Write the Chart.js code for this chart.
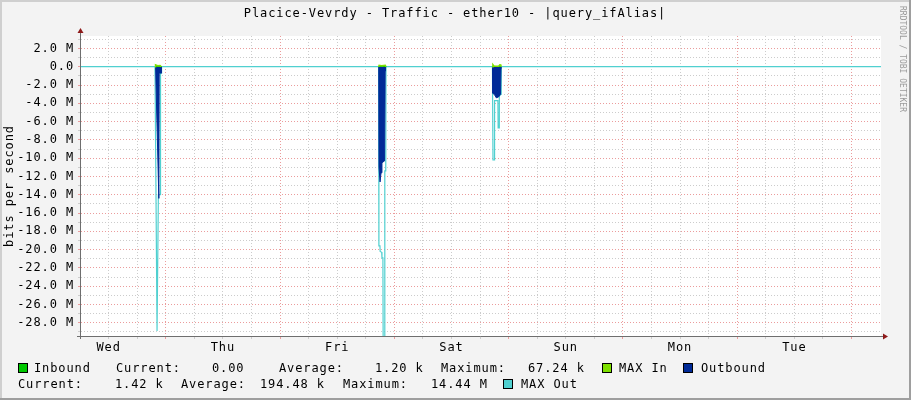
<!DOCTYPE html>
<html>
<head>
<meta charset="utf-8">
<title>Placice-Vevrdy - Traffic - ether10</title>
<script src="https://cdn.jsdelivr.net/npm/chart.js@4.4.1/dist/chart.umd.min.js"></script>
<style>
  html, body { margin: 0; padding: 0; background: #f3f3f3; }
  #wrap { position: relative; width: 911px; height: 400px; }
</style>
</head>
<body>
<div id="wrap"><canvas id="trafficChart" width="911" height="400"></canvas></div>
<script>
// x values are hours since Wednesday 00:00, y values are in Mbit/s (outbound drawn negative)
// null breaks the line between the bursts of traffic
const xMin = 6.2;
const xMax = 174.2;
const dayNames = ['Wed', 'Thu', 'Fri', 'Sat', 'Sun', 'Mon', 'Tue'];
const yMin = -29.45;
const yMax = 3.36;
const yLabelTicks = [2, 0, -2, -4, -6, -8, -10, -12, -14, -16, -18, -20, -22, -24, -26, -28];

const inHours  = [21.8, 21.9, 22.6, 23.0, 23.1, 40, 68.7, 68.8, 69.5, 70.1, 70.2, 80, 92.6, 92.7, 93.0, 93.9, 94.2, 94.4];
const inValues = [0, 0.05, 0.03, 0.067, 0, null, 0, 0.06, 0.04, 0.067, 0, null, 0, 0.067, 0.03, 0.02, 0.067, 0];

const maxInHours  = [21.75, 21.85, 22.3, 22.8, 23.1, 40, 68.7, 68.8, 69.3, 70.1, 70.25, 80, 92.55, 92.7, 92.95, 93.9, 94.15, 94.35, 94.45];
const maxInValues = [0, 0.2, 0.1, 0.12, 0, null, 0, 0.15, 0.1, 0.15, 0, null, 0, 0.22, 0.05, 0.05, 0.22, 0.2, 0];

const outHours  = [21.86, 22.55, 22.62, 23.0, 23.1, 40,
                   68.72, 68.78, 69.0, 69.2, 69.4, 69.95, 70.08, 70.15, 80,
                   92.62, 92.68, 93.1, 93.4, 93.9, 94.3, 94.4, 94.45];
const outValues = [0, -14.4, -0.7, -0.7, 0, null,
                   0, -11.0, -12.6, -11.6, -10.5, -10.3, -0.5, 0, null,
                   0, -2.9, -3.1, -3.4, -3.3, -3.0, -0.2, 0];

const maxOutHours  = [6.2, 21.74, 22.17, 22.3, 22.45, 22.85, 22.9, 23.05, 23.12,
                      68.7, 68.76, 68.98, 69.02, 69.35, 69.4, 69.6, 69.65, 69.95, 70.0, 70.2, 70.25,
                      92.6, 92.72, 92.95, 93.05, 93.75, 93.8, 94.0, 94.05, 94.4, 94.45, 174.2];
const maxOutValues = [0, 0, -28.9, -28.9, -14.0, -14.0, -0.7, -0.7, 0,
                      0, -19.6, -19.6, -20.2, -20.3, -20.9, -20.9, -30, -30, -11.4, -11.4, 0,
                      0, -10.2, -10.2, -3.7, -3.7, -6.7, -6.7, -3.2, -3.0, 0, 0];

const legendRows = [
  ['Inbound', 'Current:', '0.00', 'Average:', '1.20 k', 'Maximum:', '67.24 k'],
  ['Current:', '1.42 k', 'Average:', '194.48 k', 'Maximum:', '14.44 M']
];

const colInbound = '#00c800';
const colMaxIn = '#7ee000';
const colOutbound = '#002a97';
const colMaxOut = '#50d0d0';
const gridMajor = '#eb9c9c';
const gridMinor = '#cccccc';
const monoFont = "'DejaVu Sans Mono', monospace";

const toPoints = (xs, ys) => xs.map((x, i) => ({ x: x, y: ys[i] }));

const yGrid = [];
for (let v = Math.ceil(yMin); v <= Math.floor(yMax); v++) yGrid.push(v);
const xGrid = [];
for (let h = 12; h <= 168; h += 6) xGrid.push(h);

function fmtY(v) {
  if (v === 0) return '0.0';
  return v.toFixed(1) + ' M';
}

// background, frame, axes with arrows, title, legend and watermark
const rrdFrame = {
  id: 'rrdFrame',
  beforeDraw(chart) {
    const c = chart.ctx, a = chart.chartArea, w = chart.width, h = chart.height;
    c.save();
    c.fillStyle = '#f3f3f3';
    c.fillRect(0, 0, w, h);
    c.fillStyle = '#cfcfcf';
    c.fillRect(0, 0, w, 2);
    c.fillRect(0, 0, 2, h);
    c.fillStyle = '#9e9e9e';
    c.fillRect(w - 2, 0, 2, h);
    c.fillRect(0, h - 2, w, 2);
    c.fillStyle = '#ffffff';
    c.fillRect(a.left, a.top, a.right - a.left, a.bottom - a.top);
    c.restore();
    c.letterSpacing = '0.9px';
  },
  afterDraw(chart) {
    const c = chart.ctx, a = chart.chartArea;
    c.save();
    // axes
    c.strokeStyle = '#6e6e6e';
    c.lineWidth = 1;
    c.beginPath();
    c.moveTo(a.left - 0.5, a.top - 4);
    c.lineTo(a.left - 0.5, a.bottom + 3);
    c.moveTo(a.left - 4, a.bottom + 0.5);
    c.lineTo(a.right + 3, a.bottom + 0.5);
    c.stroke();
    c.fillStyle = '#8e1a1a';
    c.beginPath();
    c.moveTo(a.left - 0.5, a.top - 8);
    c.lineTo(a.left - 3.5, a.top - 3);
    c.lineTo(a.left + 2.5, a.top - 3);
    c.closePath();
    c.fill();
    c.beginPath();
    c.moveTo(a.right + 7, a.bottom + 0.5);
    c.lineTo(a.right + 2, a.bottom - 2.5);
    c.lineTo(a.right + 2, a.bottom + 3.5);
    c.closePath();
    c.fill();

    // title
    c.fillStyle = '#000';
    c.font = '12px ' + monoFont;
    c.textBaseline = 'middle';
    c.textAlign = 'center';
    c.fillText('Placice-Vevrdy - Traffic - ether10 - |query_ifAlias|', 455, 14);

    // legend
    c.textAlign = 'left';
    const box = (x, y, col) => {
      c.fillStyle = col;
      c.fillRect(x, y, 10, 10);
      c.strokeStyle = '#000';
      c.strokeRect(x + 0.5, y + 0.5, 9, 9);
      c.fillStyle = '#000';
    };
    const row1X = [34, 116, 212, 279, 375, 441, 528];
    const row2X = [18, 115, 181, 260, 343, 431];
    box(18, 363, colInbound);
    legendRows[0].forEach((t, i) => c.fillText(t, row1X[i], 368.5));
    box(602, 363, colMaxIn);
    c.fillText('MAX In', 619, 368.5);
    box(683, 363, colOutbound);
    c.fillText('Outbound', 701, 368.5);
    legendRows[1].forEach((t, i) => c.fillText(t, row2X[i], 384.5));
    box(503, 379, colMaxOut);
    c.fillText('MAX Out', 521, 384.5);

    // watermark
    c.letterSpacing = '0px';
    c.fillStyle = '#9a9a9a';
    c.font = '8px ' + monoFont;
    c.translate(902, 6);
    c.rotate(Math.PI / 2);
    c.textAlign = 'left';
    c.fillText('RRDTOOL / TOBI OETIKER', 0, 0);
    c.restore();
  }
};

new Chart(document.getElementById('trafficChart'), {
  type: 'line',
  data: {
    datasets: [
      {
        label: 'MAX Out',
        data: toPoints(maxOutHours, maxOutValues),
        borderColor: colMaxOut,
        borderWidth: 1.2,
        fill: false,
        order: 4
      },
      {
        label: 'Outbound',
        data: toPoints(outHours, outValues),
        borderColor: colOutbound,
        backgroundColor: colOutbound,
        borderWidth: 1,
        fill: 'origin',
        order: 3
      },
      {
        label: 'Inbound',
        data: toPoints(inHours, inValues),
        borderColor: colInbound,
        backgroundColor: colInbound,
        borderWidth: 1,
        fill: 'origin',
        order: 2
      },
      {
        label: 'MAX In',
        data: toPoints(maxInHours, maxInValues),
        borderColor: colMaxIn,
        borderWidth: 1.5,
        fill: false,
        order: 1
      }
    ]
  },
  options: {
    responsive: false,
    animation: false,
    events: [],
    layout: { padding: { top: 36, right: 30, left: 0, bottom: 0 } },
    elements: { point: { radius: 0 }, line: { tension: 0 } },
    plugins: {
      legend: { display: false },
      tooltip: { enabled: false },
      title: { display: false }
    },
    scales: {
      x: {
        type: 'linear',
        min: xMin,
        max: xMax,
        bounds: 'data',
        afterFit: s => { s.height = 64; },
        afterBuildTicks: s => { s.ticks = xGrid.map(v => ({ value: v })); },
        ticks: {
          autoSkip: false,
          maxRotation: 0,
          padding: 2,
          color: '#000',
          font: { family: monoFont, size: 12 },
          callback: v => (v % 24 === 12 ? dayNames[(v - 12) / 24] : '')
        },
        grid: {
          color: c => (c.tick && c.tick.value % 24 === 0 ? gridMajor : gridMinor),
          tickLength: 3
        },
        border: { display: false, dash: [1, 2] }
      },
      y: {
        min: yMin,
        max: yMax,
        bounds: 'data',
        afterFit: s => { s.width = 81; },
        afterBuildTicks: s => { s.ticks = yGrid.map(v => ({ value: v })); },
        ticks: {
          autoSkip: false,
          padding: 4,
          color: '#000',
          font: { family: monoFont, size: 12 },
          callback: v => (yLabelTicks.includes(v) ? fmtY(v) : '')
        },
        grid: {
          color: c => (c.tick && Math.abs(c.tick.value) % 2 === 0 ? gridMajor : gridMinor),
          tickLength: 3
        },
        border: { display: false, dash: [1, 2] },
        title: {
          display: true,
          text: 'bits per second',
          color: '#000',
          font: { family: monoFont, size: 12 },
          padding: { top: 3, bottom: 0 }
        }
      }
    }
  },
  plugins: [rrdFrame]
});
</script>
</body>
</html>
